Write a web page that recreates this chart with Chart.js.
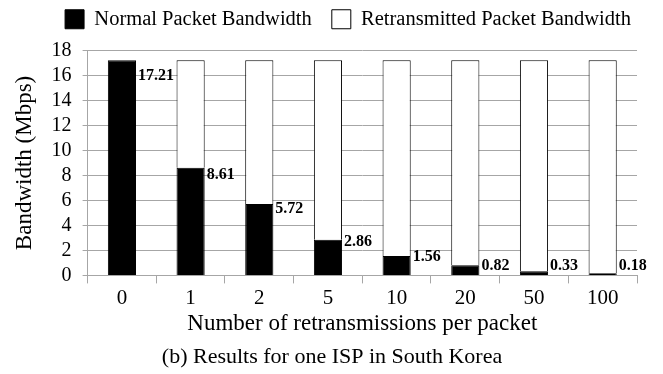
<!DOCTYPE html>
<html>
<head>
<meta charset="utf-8">
<script src="https://cdn.jsdelivr.net/npm/chart.js@4"></script>
<style>
  html, body { margin: 0; padding: 0; background: #fff; }
  #wrap { width: 663px; height: 374px; }
</style>
</head>
<body>
<div id="wrap"><canvas id="c" width="663" height="374"></canvas></div>
<script>
// Retransmissions per packet (category axis)
const categories = ['0', '1', '2', '5', '10', '20', '50', '100'];
// Bandwidth of normal packets, Mbps
const normalBandwidth = [17.21, 8.61, 5.72, 2.86, 1.56, 0.82, 0.33, 0.18];
// Bandwidth taken by retransmitted packets, Mbps
const retransmittedBandwidth = [0, 8.60, 11.49, 14.35, 15.65, 16.39, 16.88, 17.03];
// Y axis tick values
const yTicks = [0, 2, 4, 6, 8, 10, 12, 14, 16, 18];

const SERIF = '"Liberation Serif", "Times New Roman", serif';
const GRID = '#a6a6a6';

// Writes the normal-bandwidth value beside each black segment
const valueLabels = {
  id: 'valueLabels',
  afterDatasetsDraw(chart) {
    const ctx = chart.ctx;
    const y = chart.scales.y;
    const meta = chart.getDatasetMeta(0);
    ctx.save();
    ctx.font = 'bold 16px ' + SERIF;
    ctx.fillStyle = '#000';
    ctx.textAlign = 'left';
    ctx.textBaseline = 'middle';
    meta.data.forEach((bar, i) => {
      const v = normalBandwidth[i];
      const px = bar.x + bar.width / 2 + 2;
      const py = Math.min(y.getPixelForValue(v * 0.93), y.getPixelForValue(0) - 10);
      ctx.fillText(v.toFixed(2), px, py);
    });
    ctx.restore();
  }
};

// Moves the legend row and the caption to their final spots
const blockShift = {
  id: 'blockShift',
  afterLayout(chart) {
    if (chart.legend) {
      chart.legend.left += 24;
      chart.legend.right += 24;
      chart.legend.top -= 11;
      chart.legend.bottom -= 11;
    }
    if (chart.titleBlock) {
      chart.titleBlock.left += 8;
      chart.titleBlock.right += 8;
    }
  }
};

new Chart(document.getElementById('c'), {
  type: 'bar',
  data: {
    labels: categories,
    datasets: [
      {
        label: 'Normal Packet Bandwidth',
        data: normalBandwidth,
        backgroundColor: '#000',
        borderColor: '#000',
        borderWidth: 1
      },
      {
        label: 'Retransmitted Packet Bandwidth',
        data: retransmittedBandwidth,
        backgroundColor: '#fff',
        borderColor: '#000',
        borderWidth: 1
      }
    ]
  },
  options: {
    responsive: false,
    animation: false,
    devicePixelRatio: 1,
    layout: { padding: { left: 11, right: 26, top: 0, bottom: 2 } },
    datasets: {
      bar: { barPercentage: 0.41, categoryPercentage: 1 }
    },
    plugins: {
      legend: {
        position: 'top',
        labels: {
          font: { family: SERIF, size: 20.5 },
          color: '#000',
          boxWidth: 19,
          boxHeight: 19,
          padding: 20
        }
      },
      title: {
        display: true,
        position: 'bottom',
        text: '(b) Results for one ISP in South Korea',
        color: '#000',
        font: { family: SERIF, size: 22, weight: 'normal' },
        padding: { top: 8, bottom: 2 }
      },
      tooltip: { enabled: false }
    },
    scales: {
      x: {
        stacked: true,
        grid: {
          offset: true,
          drawOnChartArea: false,
          drawTicks: true,
          tickLength: 8,
          color: GRID
        },
        border: { color: GRID, width: 1 },
        ticks: {
          color: '#000',
          font: { family: SERIF, size: 21 },
          padding: 2
        },
        title: {
          display: true,
          text: 'Number of retransmissions per packet',
          color: '#000',
          font: { family: SERIF, size: 23, lineHeight: 1 },
          padding: { top: 0, bottom: 0 }
        }
      },
      y: {
        stacked: true,
        min: 0,
        max: 18,
        afterBuildTicks(scale) {
          scale.ticks = yTicks.map(v => ({ value: v }));
        },
        grid: {
          color: GRID,
          tickLength: 5,
          lineWidth: 1
        },
        border: { color: GRID, width: 1 },
        ticks: {
          color: '#000',
          font: { family: SERIF, size: 20 },
          padding: 11,
          autoSkip: false
        },
        title: {
          display: true,
          text: 'Bandwidth (Mbps)',
          color: '#000',
          font: { family: SERIF, size: 23 },
          padding: { top: 0, bottom: 2 }
        }
      }
    }
  },
  plugins: [valueLabels, blockShift]
});
</script>
</body>
</html>
